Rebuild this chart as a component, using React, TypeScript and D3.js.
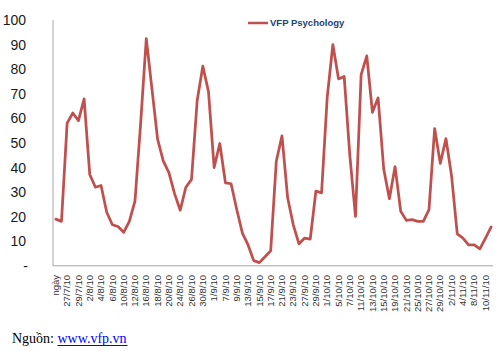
import React from "react";
import * as d3 from "d3";

const xLabels: string[] = [
  "ngày", "27/7/10", "29/7/10", "2/8/10", "4/8/10", "6/8/10", "10/8/10", "12/8/10",
  "16/8/10", "18/8/10", "20/8/10", "24/8/10", "26/8/10", "30/8/10", "1/9/10", "7/9/10",
  "9/9/10", "13/9/10", "15/9/10", "17/9/10", "21/9/10", "23/9/10", "27/9/10", "29/9/10",
  "1/10/10", "5/10/10", "7/10/10", "11/10/10", "13/10/10", "15/10/10", "19/10/10",
  "21/10/10", "25/10/10", "27/10/10", "29/10/10", "2/11/10", "4/11/10", "8/11/10", "10/11/10",
];

const seriesName = "VFP Psychology";

const values: number[] = [
  19.0, 18.1, 58.1, 62.2, 59.1, 68, 37.2, 32, 32.7, 21.8,
  16.7, 16, 13.6, 18.1, 26.3, 58, 92.5, 72, 51.6, 42.7,
  37.9, 29.4, 22.6, 32, 35.2, 67.3, 81.3, 70.9, 40, 49.8,
  33.8, 33.4, 22.9, 13.3, 8.5, 2.1, 1.3, 3.7, 6.1, 42.7,
  52.9, 27.7, 16.7, 8.9, 11.3, 10.9, 30.4, 29.7, 68.6, 90.1,
  76.1, 77.1, 45, 20.1, 77.8, 85.5, 62.5, 68.4, 39.3, 27.3,
  40.4, 22.2, 18.5, 18.8, 18.1, 18.1, 22.9, 55.9, 41.7, 51.8,
  36.5, 13.0, 11.3, 8.5, 8.5, 6.9, 11.3, 15.8,
];

const yTicks: number[] = [0, 10, 20, 30, 40, 50, 60, 70, 80, 90, 100];

export default function App() {
  const W = 498;
  const H = 351;
  const left = 53;
  const right = 494;
  const top = 20.2;
  const bottom = 265.8;
  const red = "#C0504D";

  const idx = values.map((_, i) => i);
  const x = d3.scaleBand<number>().domain(idx).range([left, right]).padding(0);
  const cx = (i: number) => (x(i) as number) + x.bandwidth() / 2;
  const y = d3.scaleLinear().domain([0, 100]).range([bottom, top]);

  const line = d3
    .line<number>()
    .x((_, i) => cx(i))
    .y((d) => y(d));

  return (
    <svg
      width={W}
      height={H}
      style={{ position: "absolute", left: 0, top: 0, background: "#fff" }}
    >
      <rect x={0} y={0} width={W} height={H} fill="#fff" />
      {/* axes */}
      <line x1={left} x2={left} y1={top} y2={bottom} stroke="#a6a6a6" strokeWidth={1} />
      <line x1={left} x2={right - 1} y1={bottom} y2={bottom} stroke="#a6a6a6" strokeWidth={1} />
      {/* y labels */}
      {yTicks.map((t) => (
        <text
          key={t}
          x={t === 0 ? 28 : 26}
          y={y(t)}
          dy="0.36em"
          textAnchor="end"
          fontFamily="Liberation Sans, Arial, sans-serif"
          fontSize={14}
          fill="#1a1a1a"
        >
          {t === 0 ? "-" : t}
        </text>
      ))}
      {/* x labels */}
      {xLabels.map((lab, k) => {
        const i = k * 2;
        const px = cx(i) + 3.2;
        const py = 275;
        return (
          <text
            key={lab}
            transform={`translate(${px},${py}) rotate(-90)`}
            textAnchor="end"
            fontFamily="Liberation Sans, Arial, sans-serif"
            fontSize={9.5}
            fill="#333"
          >
            {lab}
          </text>
        );
      })}
      {/* series line */}
      <path
        d={line(values) || ""}
        fill="none"
        stroke={red}
        strokeWidth={2.75}
        strokeLinejoin="round"
        strokeLinecap="round"
      />
      {/* legend */}
      <line x1={248} x2={268} y1={23} y2={23} stroke={red} strokeWidth={2.5} />
      <text
        x={270}
        y={23}
        dy="0.35em"
        fontFamily="Liberation Sans, Arial, sans-serif"
        fontWeight="bold"
        fontSize={9.5}
        fill="#243F73"
      >
        {seriesName}
      </text>
      {/* source */}
      <text x={12} y={343} fontFamily="Liberation Serif, Times New Roman, serif" fontSize={14} fill="#000">
        Nguồn:{" "}
        <tspan fill="#0000ff">www.vfp.vn</tspan>
      </text>
      <line x1={57.5} x2={127.5} y1={345.5} y2={345.5} stroke="#0000ff" strokeWidth={1} />
    </svg>
  );
}
